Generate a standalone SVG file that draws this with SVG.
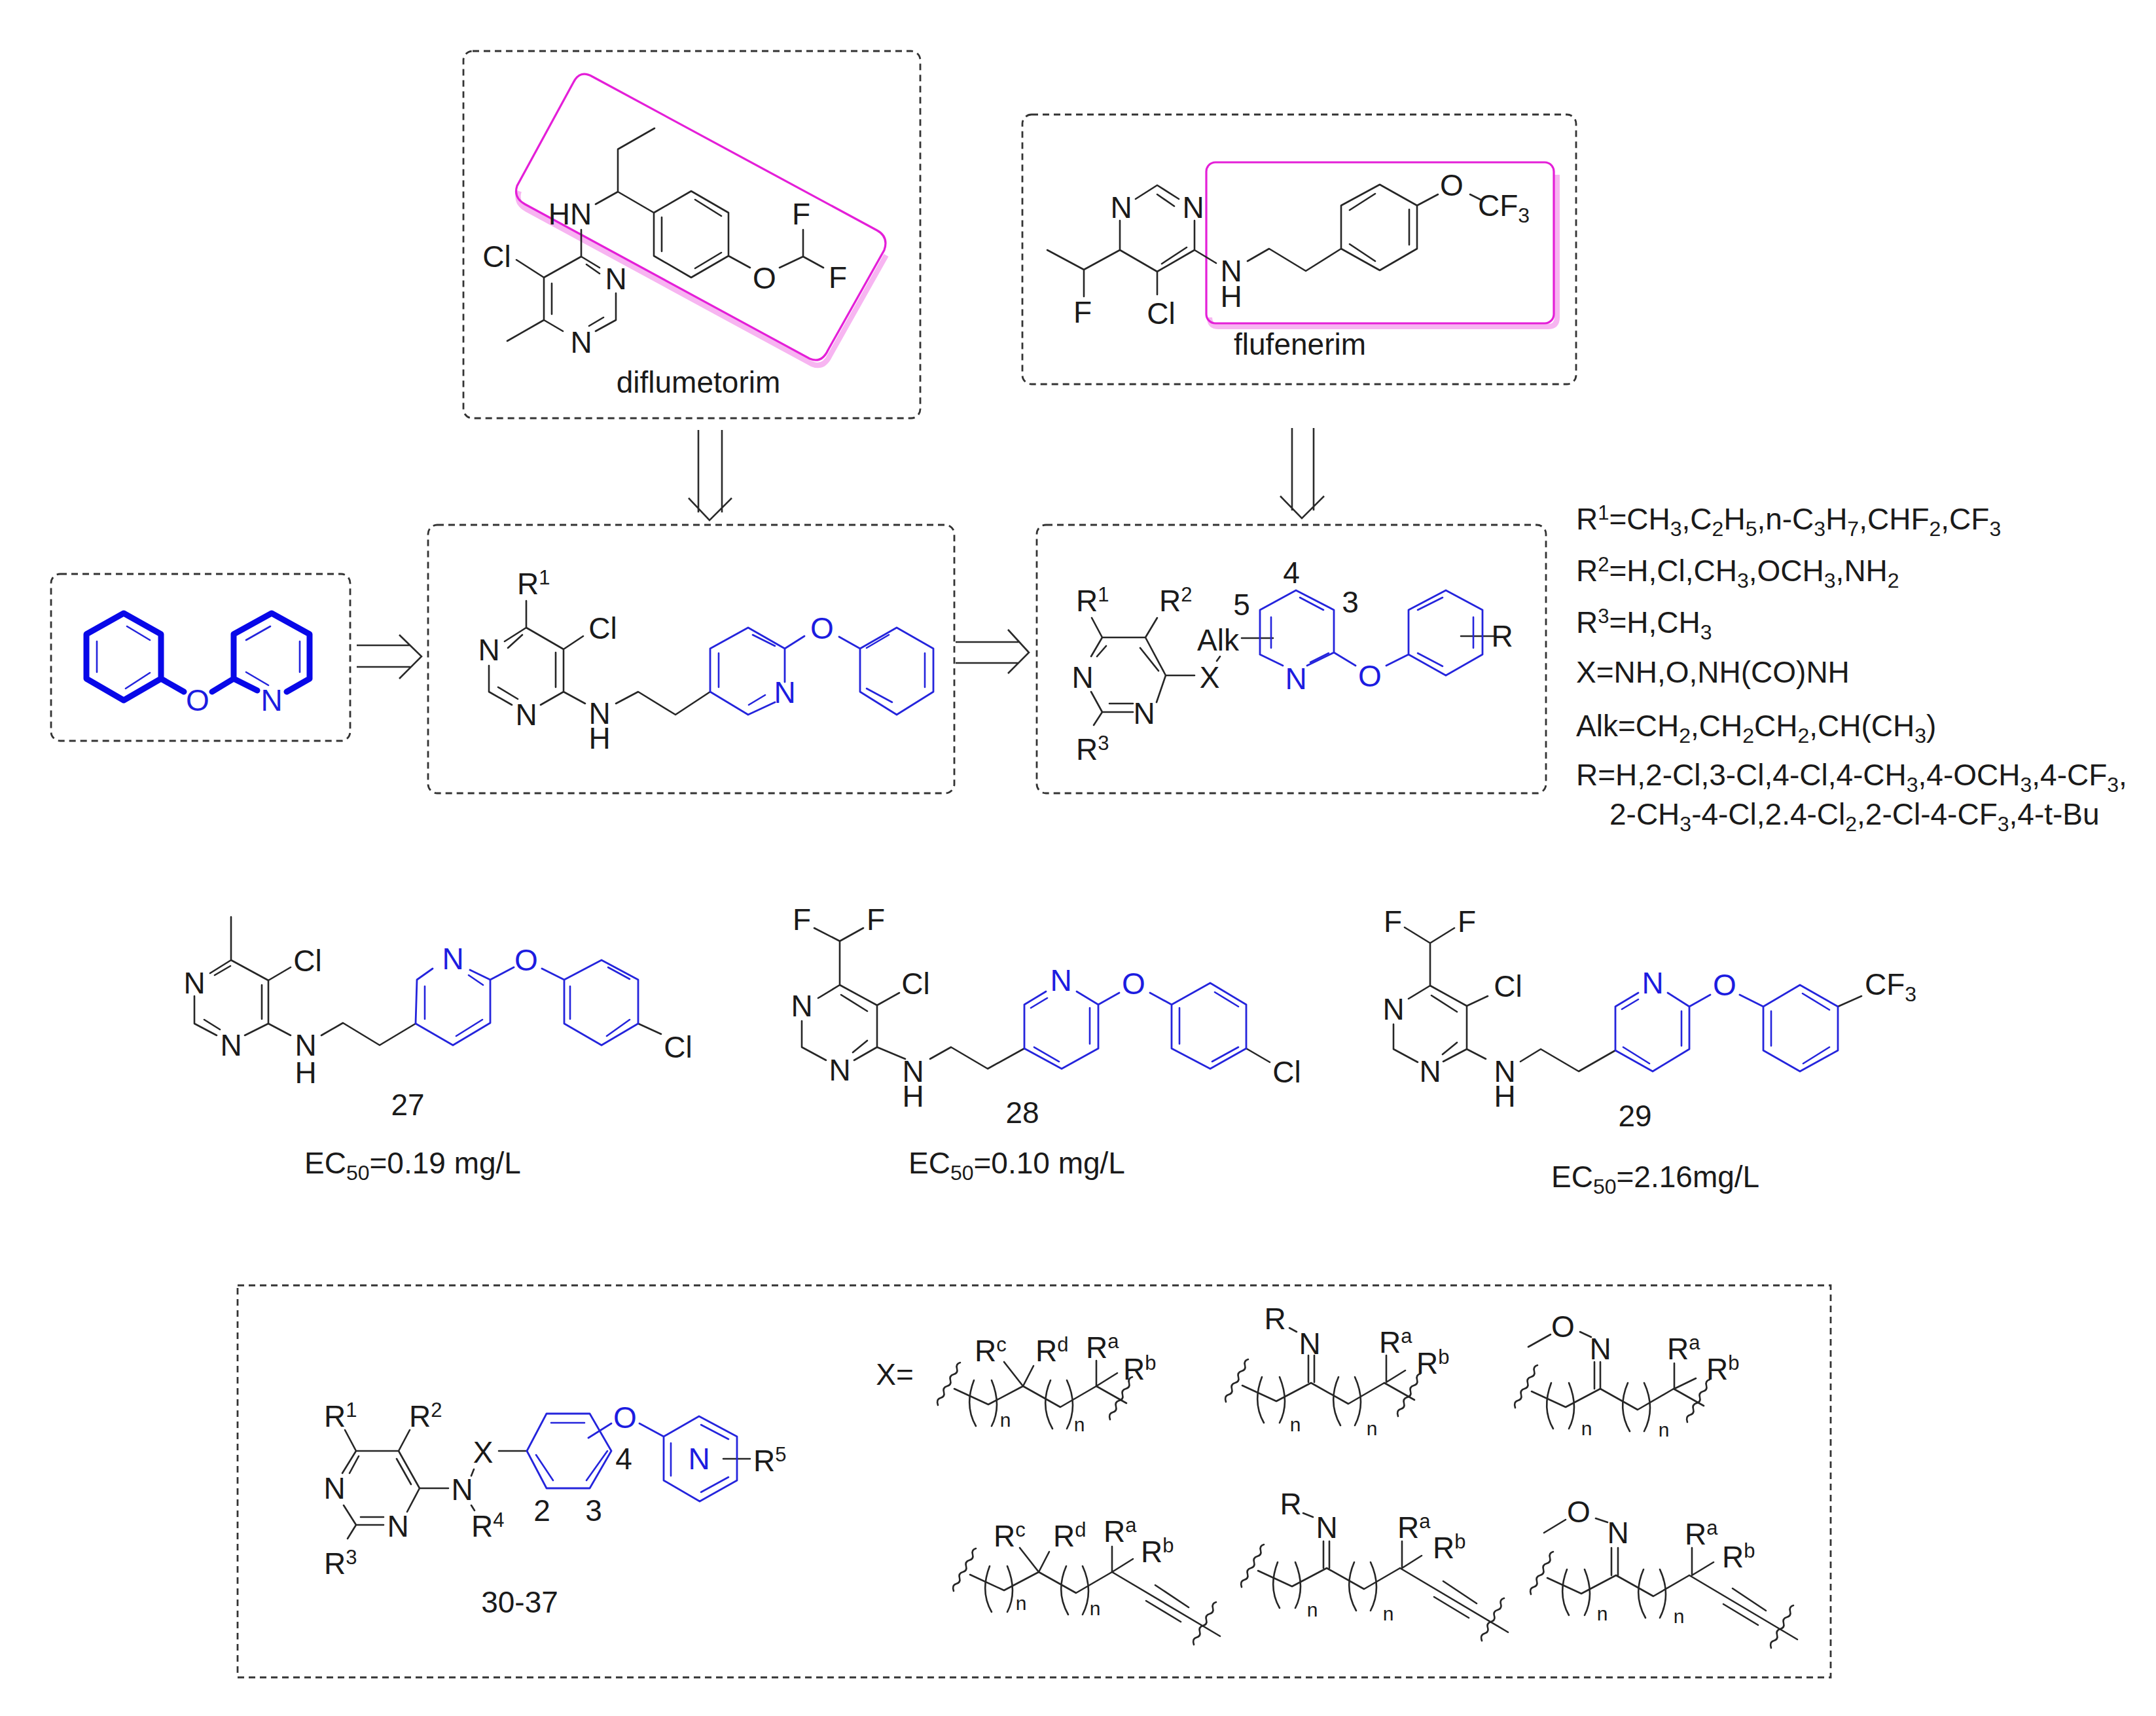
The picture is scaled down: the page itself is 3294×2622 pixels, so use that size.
<svg xmlns="http://www.w3.org/2000/svg" width="3294" height="2622" viewBox="0 0 3294 2622">
<style>
text{font-family:"Liberation Sans",Arial,sans-serif;font-size:46px;fill:#1a1a1a}
.m{text-anchor:middle}
.bl{fill:#1c1ce0}
.u{font-size:31px;baseline-shift:15px}
.d{font-size:32px;baseline-shift:-10px}
.n{font-size:30px}
.k{fill:none;stroke:#262626;stroke-width:2.6;stroke-linecap:round;stroke-linejoin:round}
.b{fill:none;stroke:#2424dc;stroke-width:2.8;stroke-linecap:round;stroke-linejoin:round}
.bt{fill:none;stroke:#0808e8;stroke-width:9;stroke-linecap:round;stroke-linejoin:round}
.bi{fill:none;stroke:#2424dc;stroke-width:2.6;stroke-linecap:round}
.box{fill:none;stroke:#333;stroke-width:2.8;stroke-dasharray:10 7}
.mg{fill:none;stroke:#e41fd8;stroke-width:3.2}
.sh{fill:none;stroke:#f7b5f1;stroke-width:8}
.arr{fill:none;stroke:#2a2a2a;stroke-width:2.6}
</style>
<defs>
<path id="sqL" d="M-24,26 q-3,-9 4,-11 q7,-2 5,-9 q-2,-7 5,-9 q7,-2 5,-9 q-2,-7 5,-9 q7,-2 5,-9 q-2,-7 5,-9" class="k" transform="translate(-1,-1)"/>
<g id="bb" class="k">
<path d="M-105,4 L-53,28 L0,0 L57,32 L112,0"/>
<path d="M-75,-9 Q-90,30 -72,61 M-48,-9 Q-32,30 -48,61 M42,-9 Q25,30 45,65 M67,-9 Q85,30 67,65"/>
<use href="#sqL" x="-105" y="4"/>
</g>
<g id="tail" class="k"><path d="M112,0 L158,26"/><use href="#sqL" x="158" y="26"/></g>
<g id="yne" class="k"><path d="M112,0 L277,98 M178,20 L229,54 M164,44 L217,76"/><use href="#sqL" x="262" y="86"/></g>
</defs>

<g id="connectors">
<path class="arr" d="M1067,657 V783 M1103,657 V783 M1052,761 L1084,795 L1118,761"/>
<path class="arr" d="M1974,654 V780 M2007,654 V780 M1956,758 L1989,792 L2023,758"/>
<path class="arr" d="M545,986 H627 M545,1019 H627 M610,970 L644,1003 L610,1037"/>
<path class="arr" d="M1460,981 H1557 M1460,1013 H1557 M1540,962 L1572,997 L1540,1029"/>
</g>

<g id="diflumetorim-box">
<rect class="box" x="708" y="78" width="698" height="561" rx="14"/>
<path class="sh" transform="translate(3,8)" d="M790,284 Q784,302 802,312 L1237,548 Q1255,556 1265,535 L1351,382"/>
<path class="mg" d="M905,117 L1340,352 Q1358,362 1351,382 L1265,535 Q1255,556 1237,548 L802,312 Q784,302 790,284 L876,126 Q886,106 905,117 Z"/>
<path class="k" d="M1000,196 L944,228 V293 L910,312 M944,293 L999,325 M1056,292 L1113,325 V391 L1056,424 L999,391 V325 Z M1062,305 L1102,330 M1102,386 L1062,410 M1011,332 V384 M1113,391 L1146,409 M1191,409 L1227,392 V351 M1227,392 L1258,409 M888,351 V392 L831,424 V489 L860,506 M888,392 L916,409 M896,404 L916,418 M941,448 V489 L910,506 M922,485 L900,498 M831,424 L789,397 M843,433 V480 M831,489 L775,521"/>
<text class="m" x="871" y="343">HN</text>
<text class="m" x="1168" y="441">O</text>
<text class="m" x="1224" y="343">F</text>
<text class="m" x="1280" y="440">F</text>
<text class="m" x="941" y="442">N</text>
<text class="m" x="888" y="539">N</text>
<text class="m" x="759" y="408">Cl</text>
<text class="m" x="1067" y="600">diflumetorim</text>
</g>

<g id="flufenerim-box">
<rect class="box" x="1562" y="175" width="846" height="412" rx="14"/>
<path class="sh" transform="translate(5,5)" d="M1843,480 Q1843,494 1857,494 H2360 Q2374,494 2374,480 V262"/>
<rect class="mg" x="1843" y="248" width="531" height="246" rx="14"/>
<path class="k" d="M1735,304 L1768,283 L1801,304 M1768,297 L1794,315 M1825,337 V382 L1768,415 L1711,382 V337 M1813,378 L1775,403 M1711,382 L1656,412 L1600,382 M1656,412 V453 M1768,415 V450 M1825,382 L1858,402 M1906,399 L1939,380 L1995,414 L2049,380 M2049,380 V314 L2108,282 L2165,314 V380 L2108,413 Z M2062,321 L2101,296 M2153,320 V374 M2062,373 L2101,399 M2165,314 L2197,297 M2246,297 L2262,305"/>
<text class="m" x="1713" y="333">N</text>
<text class="m" x="1823" y="333">N</text>
<text class="m" x="1654" y="493">F</text>
<text class="m" x="1774" y="495">Cl</text>
<text class="m" x="1881" y="430">N<tspan x="1881" dy="39">H</tspan></text>
<text class="m" x="2218" y="299">O</text>
<text x="2258" y="330">CF<tspan class="d">3</tspan></text>
<text class="m" x="1986" y="542">flufenerim</text>
</g>

<g id="diaryl-ether-box">
<rect class="box" x="78" y="877" width="457" height="255" rx="14"/>
<path class="bt" d="M189,937 L246,969 V1037 L189,1070 L132,1037 V969 Z M246,1037 L281,1057 M324,1057 L357,1037 M357,969 V1037 M357,969 L415,937 L473,969 V1037 M357,1037 L393,1055 M438,1057 L473,1037"/>
<path class="bi" d="M194,957 L229,978 M148,980 V1027 M229,1028 L192,1052 M413,957 L376,978 M458,980 V1027 M376,1027 L410,1047"/>
<text class="m bl" x="302" y="1086">O</text>
<text class="m bl" x="415" y="1086">N</text>
</g>

<g id="intermediate-box">
<rect class="box" x="654" y="802" width="804" height="410" rx="14"/>
<path class="k" d="M804,918 V959 L861,992 V1057 L894,1075 M861,1057 L826,1077 M804,959 L771,980 M798,970 L776,990 M849,997 V1050 M747,1017 V1057 L782,1077 M761,1050 L791,1068 M861,992 L891,972 M941,1075 L975,1057 L1032,1092 L1085,1057"/>
<path class="b" d="M1085,1057 V991 L1143,959 L1199,991 V1042 M1184,1073 L1143,1092 L1085,1057 M1199,991 L1229,972 M1282,973 L1314,991 L1370,959 L1426,991 V1057 L1370,1092 L1314,1057 V991"/>
<path class="bi" d="M1098,998 V1050 M1150,970 L1184,987 M1169,1062 L1144,1077 M1324,990 L1358,970 M1413,998 V1050 M1324,1052 L1363,1073"/>
<text x="790" y="908">R<tspan class="u">1</tspan></text>
<text class="m" x="921" y="976">Cl</text>
<text class="m" x="747" y="1009">N</text>
<text class="m" x="804" y="1108">N</text>
<text class="m" x="916" y="1106">N<tspan x="916" dy="38">H</tspan></text>
<text class="m bl" x="1199" y="1074">N</text>
<text class="m bl" x="1256" y="976">O</text>
</g>

<g id="general-formula-box">
<rect class="box" x="1584" y="802" width="778" height="410" rx="14"/>
<path class="k" d="M1668,944 L1684,974 H1750 L1768,944 M1684,974 L1667,1003 M1690,987 L1676,1003 M1750,974 L1781,1032 L1767,1073 M1742,990 L1770,1025 M1781,1032 H1825 M1684,1088 H1731 M1695,1075 H1731 M1684,1088 L1667,1057 M1684,1088 L1671,1108 M1864,1003 L1859,1010 M1897,975 H1945 M2232,972 H2284"/>
<path class="b" d="M1925,1000 V932 L1980,902 L2038,932 V997 L1997,1017 M1925,1000 L1960,1017 M2038,997 L2071,1017 M2118,1017 L2152,1000 V932 L2209,902 L2265,932 V1000 L2209,1032 L2152,1000"/>
<path class="bi" d="M1986,913 L2022,932 M1942,943 V990 M2002,1012 L2030,998 M2166,932 L2204,913 M2251,943 V990 M2166,998 L2204,1018"/>
<text x="1644" y="934">R<tspan class="u">1</tspan></text>
<text x="1771" y="934">R<tspan class="u">2</tspan></text>
<text x="1644" y="1161">R<tspan class="u">3</tspan></text>
<text class="m" x="1654" y="1051">N</text>
<text class="m" x="1748" y="1106">N</text>
<text class="m" x="1848" y="1051">X</text>
<text class="m" x="1861" y="994">Alk</text>
<text class="m" x="1973" y="891">4</text>
<text class="m" x="1897" y="940">5</text>
<text class="m" x="2063" y="936">3</text>
<text class="m bl" x="1980" y="1053">N</text>
<text class="m bl" x="2093" y="1049">O</text>
<text class="m" x="2295" y="988">R</text>
</g>

<g id="substituent-list">
<text x="2408" y="809">R<tspan class="u">1</tspan>=CH<tspan class="d">3</tspan>,C<tspan class="d">2</tspan>H<tspan class="d">5</tspan>,n-C<tspan class="d">3</tspan>H<tspan class="d">7</tspan>,CHF<tspan class="d">2</tspan>,CF<tspan class="d">3</tspan></text>
<text x="2408" y="888">R<tspan class="u">2</tspan>=H,Cl,CH<tspan class="d">3</tspan>,OCH<tspan class="d">3</tspan>,NH<tspan class="d">2</tspan></text>
<text x="2408" y="967">R<tspan class="u">3</tspan>=H,CH<tspan class="d">3</tspan></text>
<text x="2408" y="1043">X=NH,O,NH(CO)NH</text>
<text x="2408" y="1125">Alk=CH<tspan class="d">2</tspan>,CH<tspan class="d">2</tspan>CH<tspan class="d">2</tspan>,CH(CH<tspan class="d">3</tspan>)</text>
<text x="2408" y="1200">R=H,2-Cl,3-Cl,4-Cl,4-CH<tspan class="d">3</tspan>,4-OCH<tspan class="d">3</tspan>,4-CF<tspan class="d">3</tspan>,</text>
<text x="2459" y="1260">2-CH<tspan class="d">3</tspan>-4-Cl,2.4-Cl<tspan class="d">2</tspan>,2-Cl-4-CF<tspan class="d">3</tspan>,4-t-Bu</text>
</g>

<g id="compound-27">
<path class="k" d="M353,1401 V1467 L410,1498 V1564 L374,1582 M353,1467 L321,1487 M328,1490 L352,1476 M400,1505 V1557 M331,1582 L297,1564 V1522 M312,1558 L336,1573 M410,1498 L444,1478 M410,1564 L444,1582 M491,1582 L524,1563 L580,1597 L635,1564 M975,1564 L1010,1580"/>
<path class="b" d="M635,1564 L637,1497 L661,1480 M718,1482 L749,1497 V1563 L692,1597 L635,1564 M749,1497 L785,1478 M828,1480 L862,1497 L919,1467 L975,1497 V1564 L919,1597 L862,1564 V1497"/>
<path class="bi" d="M649,1507 V1557 M737,1558 L697,1583 M716,1490 L738,1505 M871,1507 V1557 M929,1478 L962,1496 M962,1558 L927,1583"/>
<text class="m" x="297" y="1518">N</text>
<text class="m" x="353" y="1613">N</text>
<text class="m" x="470" y="1484">Cl</text>
<text class="m" x="467" y="1613">N<tspan x="467" dy="42">H</tspan></text>
<text class="m bl" x="692" y="1481">N</text>
<text class="m bl" x="804" y="1483">O</text>
<text class="m" x="1036" y="1616">Cl</text>
<text class="m" x="623" y="1704">27</text>
<text x="465" y="1793">EC<tspan class="d">50</tspan>=0.19 mg/L</text>
</g>

<g id="compound-28">
<path class="k" d="M1244,1418 L1283,1438 L1319,1418 M1283,1438 V1505 L1340,1536 V1600 L1305,1620 M1283,1505 L1250,1525 M1285,1520 L1325,1545 M1225,1560 V1600 L1262,1620 M1340,1600 L1383,1618 M1340,1536 L1374,1517 M1421,1618 L1453,1600 L1509,1633 L1565,1602 M1303,1608 L1325,1590 M1904,1602 L1940,1623"/>
<path class="b" d="M1565,1602 V1535 L1598,1515 M1645,1515 L1678,1535 V1602 L1622,1633 L1565,1602 M1678,1535 L1710,1517 M1757,1517 L1790,1535 L1849,1502 L1904,1535 V1602 L1849,1633 L1790,1602 V1535"/>
<path class="bi" d="M1575,1540 L1600,1525 M1665,1540 V1595 M1580,1600 L1618,1622 M1802,1540 V1595 M1856,1516 L1892,1538 M1892,1600 L1852,1622"/>
<text class="m" x="1225" y="1421">F</text>
<text class="m" x="1338" y="1421">F</text>
<text class="m" x="1225" y="1553">N</text>
<text class="m" x="1283" y="1651">N</text>
<text class="m" x="1399" y="1519">Cl</text>
<text class="m" x="1395" y="1653">N<tspan x="1395" dy="38">H</tspan></text>
<text class="m bl" x="1621" y="1514">N</text>
<text class="m bl" x="1732" y="1519">O</text>
<text class="m" x="1966" y="1654">Cl</text>
<text class="m" x="1562" y="1716">28</text>
<text x="1388" y="1793">EC<tspan class="d">50</tspan>=0.10 mg/L</text>
</g>

<g id="compound-29">
<path class="k" d="M2146,1417 L2185,1441 L2222,1418 M2185,1441 V1506 L2241,1537 V1603 L2205,1622 M2185,1506 L2152,1526 M2187,1521 L2226,1546 M2129,1565 V1603 L2166,1623 M2241,1603 L2270,1618 M2241,1537 L2273,1522 M2323,1622 L2354,1603 L2412,1637 L2468,1605 M2204,1611 L2226,1593 M2808,1538 L2844,1522"/>
<path class="b" d="M2468,1605 V1538 L2503,1517 M2548,1517 L2581,1538 V1603 L2525,1637 L2468,1605 M2581,1538 L2613,1520 M2658,1520 L2694,1538 L2750,1505 L2808,1538 V1605 L2750,1637 L2694,1605 V1538"/>
<path class="bi" d="M2478,1542 L2503,1527 M2569,1545 V1598 M2480,1600 L2520,1625 M2706,1545 V1598 M2754,1518 L2795,1543 M2795,1600 L2755,1625"/>
<text class="m" x="2128" y="1424">F</text>
<text class="m" x="2241" y="1424">F</text>
<text class="m" x="2129" y="1558">N</text>
<text class="m" x="2185" y="1653">N</text>
<text class="m" x="2304" y="1523">Cl</text>
<text class="m" x="2299" y="1653">N<tspan x="2299" dy="38">H</tspan></text>
<text class="m bl" x="2525" y="1518">N</text>
<text class="m bl" x="2635" y="1521">O</text>
<text x="2849" y="1520">CF<tspan class="d">3</tspan></text>
<text class="m" x="2498" y="1721">29</text>
<text x="2370" y="1814">EC<tspan class="d">50</tspan>=2.16mg/L</text>
</g>

<g id="series-30-37-box">
<rect class="box" x="363" y="1964" width="2434" height="599"/>
<g id="scaffold">
<path class="k" d="M527,2185 L544,2217 H609 L626,2185 M544,2217 L523,2251 M534,2251 L548,2225 M609,2217 L641,2274 L622,2310 M628,2268 L606,2229 M544,2330 H586 M551,2318 H586 M544,2330 L525,2300 M544,2330 L531,2351 M641,2274 H685 M724,2245 L720,2255 M720,2300 L725,2308 M762,2217 H805 M1105,2229 H1146"/>
<path class="b" d="M805,2217 L835,2160 H901 L934,2217 L901,2274 H835 Z M934,2175 L899,2197 M977,2175 L1014,2195 L1068,2164 L1126,2195 V2262 L1069,2294 L1014,2262 V2195"/>
<path class="bi" d="M842,2174 H893 M928,2217 L896,2262 M819,2223 L845,2262 M1071,2177 L1113,2199 M1025,2205 V2255 M1071,2280 L1113,2257"/>
<text x="495" y="2180">R<tspan class="u">1</tspan></text>
<text x="625" y="2180">R<tspan class="u">2</tspan></text>
<text x="495" y="2405">R<tspan class="u">3</tspan></text>
<text class="m" x="511" y="2290">N</text>
<text class="m" x="608" y="2348">N</text>
<text class="m" x="706" y="2292">N</text>
<text class="m" x="738" y="2235">X</text>
<text x="720" y="2348">R<tspan class="u">4</tspan></text>
<text class="m bl" x="955" y="2182">O</text>
<text class="m" x="953" y="2245">4</text>
<text class="m" x="828" y="2324">2</text>
<text class="m" x="907" y="2324">3</text>
<text class="m bl" x="1068" y="2245">N</text>
<text x="1151" y="2248">R<tspan class="u">5</tspan></text>
<text class="m" x="794" y="2464">30-37</text>
</g>
<text class="m" x="1367" y="2116">X=</text>

<g id="linker-1">
<use href="#bb" transform="translate(1563,2118)"/><use href="#tail" transform="translate(1563,2118)"/>
<path class="k" d="M1534,2081 L1563,2118 L1579,2087 M1675,2079 V2118 L1707,2098"/>
<text x="1489" y="2080">R<tspan class="u">c</tspan></text>
<text x="1582" y="2080">R<tspan class="u">d</tspan></text>
<text x="1659" y="2075">R<tspan class="u">a</tspan></text>
<text x="1716" y="2108">R<tspan class="u">b</tspan></text>
<text class="m n" x="1536" y="2180">n</text>
<text class="m n" x="1649" y="2187">n</text>
</g>
<g id="linker-2">
<use href="#bb" transform="translate(2003,2113)"/><use href="#tail" transform="translate(2003,2113)"/>
<path class="k" d="M1970,2029 L1981,2035 M1999,2071 V2112 M2008,2071 V2112 M2118,2071 V2112 L2147,2094"/>
<text class="m" x="1948" y="2031">R</text>
<text class="m" x="2001" y="2069">N</text>
<text x="2107" y="2067">R<tspan class="u">a</tspan></text>
<text x="2164" y="2099">R<tspan class="u">b</tspan></text>
<text class="m n" x="1979" y="2187">n</text>
<text class="m n" x="2096" y="2193">n</text>
</g>
<g id="linker-3">
<use href="#bb" transform="translate(2445,2122)"/><use href="#tail" transform="translate(2445,2122)"/>
<path class="k" d="M2369,2039 L2335,2058 M2414,2035 L2431,2043 M2436,2081 V2122 M2445,2081 V2122 M2558,2083 V2122 L2591,2106"/>
<text class="m" x="2388" y="2043">O</text>
<text class="m" x="2445" y="2077">N</text>
<text x="2547" y="2077">R<tspan class="u">a</tspan></text>
<text x="2607" y="2108">R<tspan class="u">b</tspan></text>
<text class="m n" x="2424" y="2193">n</text>
<text class="m n" x="2542" y="2195">n</text>
</g>
<g id="linker-4">
<use href="#bb" transform="translate(1587,2402)"/><use href="#yne" transform="translate(1587,2402)"/>
<path class="k" d="M1558,2365 L1587,2402 L1603,2371 M1699,2363 V2402 L1731,2382"/>
<text x="1518" y="2363">R<tspan class="u">c</tspan></text>
<text x="1609" y="2363">R<tspan class="u">d</tspan></text>
<text x="1686" y="2356">R<tspan class="u">a</tspan></text>
<text x="1743" y="2387">R<tspan class="u">b</tspan></text>
<text class="m n" x="1560" y="2460">n</text>
<text class="m n" x="1673" y="2468">n</text>
</g>
<g id="linker-5">
<use href="#bb" transform="translate(2027,2396)"/><use href="#yne" transform="translate(2027,2396)"/>
<path class="k" d="M1991,2312 L2006,2318 M2022,2355 V2396 M2031,2355 V2396 M2142,2355 V2396 L2172,2377"/>
<text class="m" x="1972" y="2314">R</text>
<text class="m" x="2027" y="2350">N</text>
<text x="2135" y="2350">R<tspan class="u">a</tspan></text>
<text x="2189" y="2381">R<tspan class="u">b</tspan></text>
<text class="m n" x="2005" y="2470">n</text>
<text class="m n" x="2121" y="2476">n</text>
</g>
<g id="linker-6">
<use href="#bb" transform="translate(2469,2407)"/><use href="#yne" transform="translate(2469,2407)"/>
<path class="k" d="M2392,2322 L2359,2342 M2438,2320 L2456,2326 M2462,2365 V2407 M2472,2365 V2407 M2585,2365 V2407 L2618,2387"/>
<text class="m" x="2412" y="2326">O</text>
<text class="m" x="2472" y="2358">N</text>
<text x="2574" y="2360">R<tspan class="u">a</tspan></text>
<text x="2631" y="2395">R<tspan class="u">b</tspan></text>
<text class="m n" x="2448" y="2476">n</text>
<text class="m n" x="2565" y="2480">n</text>
</g>
</g>
</svg>
